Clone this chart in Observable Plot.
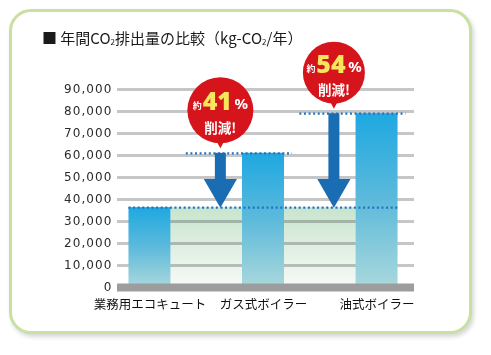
<!DOCTYPE html>
<html><head><meta charset="utf-8">
<script src="https://cdn.jsdelivr.net/npm/d3@7"></script>
<script src="https://cdn.jsdelivr.net/npm/@observablehq/plot@0.6"></script>
<style>
body{margin:0;background:#fff;}
#wrap{position:relative;width:491px;height:355px;overflow:hidden;background:#fff;font-family:"Noto Sans CJK JP",sans-serif;}
#frame{position:absolute;left:9px;top:9px;width:463px;height:325px;box-sizing:border-box;border:3px solid #c8e0a0;border-radius:22px;box-shadow:2px 3px 4px rgba(0,0,0,0.16);background:#fff;}
#chart{position:absolute;left:0;top:0;}
#title{position:absolute;left:42px;top:28px;font-size:15px;color:#1a1a1a;white-space:nowrap;line-height:20px;}
#title sub{font-size:8px;vertical-align:-1px;}
</style></head><body>
<div id="wrap"><div id="frame"></div><div id="chart"></div><div id="title">■ 年間CO<sub>2</sub>排出量の比較（kg-CO<sub>2</sub>/年）</div></div>
<script>
const categories = ["業務用エコキュート", "ガス式ボイラー", "油式ボイラー"];
const values = [36300, 61000, 79000];
const reductionLabels = ["41", "54"];
const yTicks = [0, 10000, 20000, 30000, 40000, 50000, 60000, 70000, 80000, 90000];

const hw = 0.185;
const base = values[0];
const bars = categories.map((c, i) => ({i, c, v: values[i]}));
const arrows = reductionLabels.map((p, k) => ({x: k + 1 - 0.38, from: values[k + 1], to: base, pct: p, r: k === 0 ? 33 : 31, bar: k + 1}));
const levels = [{y: base, x1: -hw, x2: 2 + hw}].concat(arrows.map(a => ({y: a.from, x1: a.x - 0.3, x2: a.bar + hw + 0.07})));
const area = [{x1: hw, x2: 2 - hw, y1: 0, y2: base}];

const BLUE = "#1b6db3", RED = "#d5141c", YEL = "#f6e65c";
const arrowHead = {draw(ctx, size) { const s = Math.sqrt(size / Math.PI); ctx.moveTo(0, 0); ctx.lineTo(-1.35 * s, -2.33 * s); ctx.lineTo(1.35 * s, -2.33 * s); ctx.closePath(); }};
const pointer = {draw(ctx, size) { const s = Math.sqrt(size / Math.PI); ctx.moveTo(0, 0); ctx.lineTo(-1.4 * s, -2.6 * s); ctx.lineTo(1.4 * s, -2.6 * s); ctx.closePath(); }};

function defs() {
  const d = d3.create("svg:defs");
  const g1 = d.append("linearGradient").attr("id", "gBar").attr("x1", 0).attr("y1", 0).attr("x2", 0).attr("y2", 1);
  g1.append("stop").attr("offset", 0).attr("stop-color", "#1ea8e1");
  g1.append("stop").attr("offset", 0.5).attr("stop-color", "#5dbadb");
  g1.append("stop").attr("offset", 1).attr("stop-color", "#a9d8dc");
  const g2 = d.append("linearGradient").attr("id", "gArea").attr("x1", 0).attr("y1", 0).attr("x2", 0).attr("y2", 1);
  g2.append("stop").attr("offset", 0).attr("stop-color", "#c8e4cd");
  g2.append("stop").attr("offset", 1).attr("stop-color", "#f7faf7");
  return d.node();
}

const bubbleMarks = arrows.flatMap(a => {
  const c = -(a.r + 10);
  return [
    Plot.dot([a], {x: "x", y: "from", r: a.r, fill: RED, dy: c}),
    Plot.dot([a], {x: "x", y: "from", r: 4, symbol: pointer, fill: RED, dy: -5}),
    Plot.text([a], {x: "x", y: "from", text: d => "約", dx: -23, dy: c - 1, lineAnchor: "bottom", fill: "#fff", fontSize: 9, fontWeight: "bold", fontFamily: "Noto Sans CJK JP"}),
    Plot.text([a], {x: "x", y: "from", text: "pct", dx: -3, dy: c, lineAnchor: "bottom", fill: YEL, fontSize: 25, fontWeight: 900, fontFamily: "Noto Sans", letterSpacing: -1}),
    Plot.text([a], {x: "x", y: "from", text: d => "%", dx: 21, dy: c - 1, lineAnchor: "bottom", fill: "#fff", fontSize: 15, fontWeight: "bold", fontFamily: "Noto Sans"}),
    Plot.text([a], {x: "x", y: "from", text: d => "削減!", dy: c + 18, fill: "#fff", fontSize: 13.5, fontWeight: "bold", fontFamily: "Noto Sans CJK JP"})
  ];
});

const plot = Plot.plot({
  width: 491, height: 355,
  marginLeft: 117, marginRight: 77, marginTop: 89, marginBottom: 68,
  style: {background: "transparent", fontFamily: "'DejaVu Sans', sans-serif"},
  x: {domain: [-0.286, 2.33]},
  y: {domain: [0, 90000]},
  marks: [
    defs,
    Plot.rect(area, {x1: "x1", x2: "x2", y1: "y1", y2: "y2", fill: "url(#gArea)"}),
    Plot.ruleY(yTicks.filter(t => t > 0), {stroke: "#c5c6c8", strokeWidth: 3, mixBlendMode: "multiply"}),
    Plot.rect(bars, {x1: d => d.i - hw, x2: d => d.i + hw, y1: d => 0, y2: "v", fill: "url(#gBar)"}),
    Plot.ruleY([0], {stroke: "#9c9d9f", strokeWidth: 8}),
    Plot.ruleY(levels, {y: "y", x1: "x1", x2: "x2", stroke: "#1f74c2", strokeWidth: 2.2, strokeDasharray: "2,2.6"}),
    Plot.ruleX(arrows, {x: "x", y1: "from", y2: "to", stroke: BLUE, strokeWidth: 11, insetBottom: 20}),
    Plot.dot(arrows, {x: "x", y: "to", r: 12.3, symbol: arrowHead, fill: BLUE}),
    ...bubbleMarks,
    Plot.axisY({ticks: yTicks, tickSize: 0, tickPadding: 5, tickFormat: d3.format(","), label: null, fontSize: 12, fill: "#2b2b2b"}),
    Plot.axisX({ticks: [0, 1, 2], tickFormat: i => categories[i], tickSize: 0, tickPadding: 13, label: null, fontSize: 12.5, fill: "#111", fontFamily: "Noto Sans CJK JP"})
  ]
});
d3.select(plot).selectAll('g[aria-label="y-axis tick label"] text').style("letter-spacing", "1.1px");
document.getElementById("chart").appendChild(plot);
</script>
</body></html>
